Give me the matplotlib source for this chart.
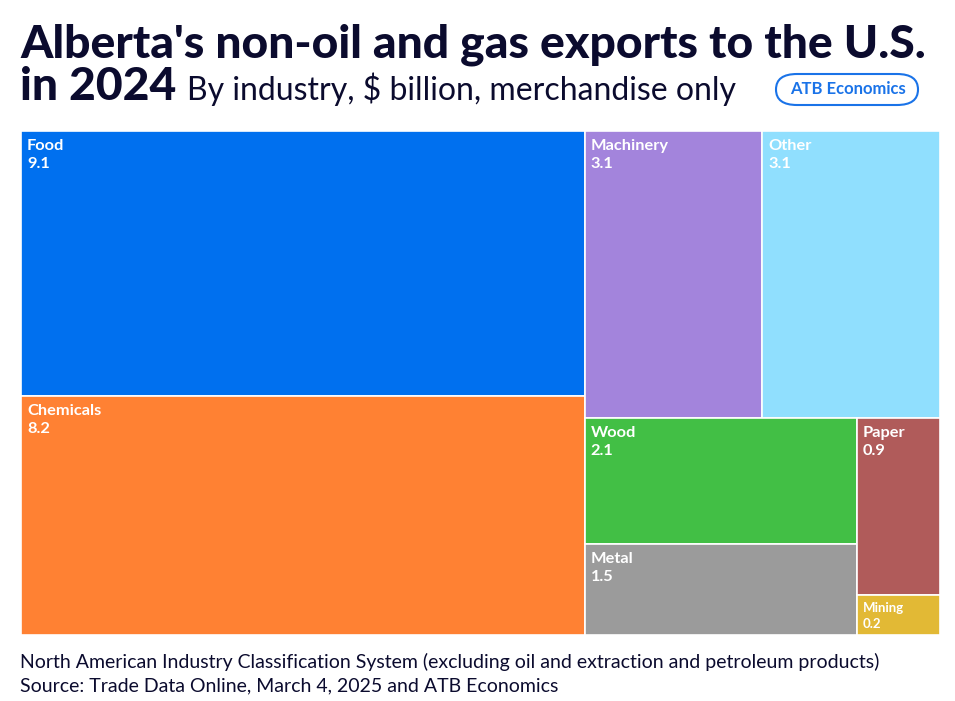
import matplotlib.pyplot as plt
from matplotlib.patches import Rectangle, FancyBboxPatch

# data
industries = ['Food', 'Chemicals', 'Machinery', 'Other', 'Wood', 'Metal', 'Paper', 'Mining']
values = [9.1, 8.2, 3.1, 3.1, 2.1, 1.5, 0.9, 0.2]
colors = ['#0070ef', '#ff8133', '#a384dc', '#90dffe', '#42bf45', '#9b9b9b', '#b05b5a', '#e2b935']

W, H = 919, 504  # treemap box in pixels


def squarify(vals, x0, y0, x1, y1, ratio=1.618034):
    # same idea as d3.treemapSquarify
    rects = []
    n = len(vals)
    value = sum(vals)
    i0 = i1 = 0
    while i0 < n:
        dx, dy = x1 - x0, y1 - y0
        s = vals[i1]
        i1 += 1
        mn = mx = s
        alpha = max(dy / dx, dx / dy) / (value * ratio)
        beta = s * s * alpha
        min_ratio = max(mx / beta, beta / mn)
        while i1 < n:
            v = vals[i1]
            s2 = s + v
            mn2, mx2 = min(mn, v), max(mx, v)
            beta = s2 * s2 * alpha
            new_ratio = max(mx2 / beta, beta / mn2)
            if new_ratio > min_ratio:
                break
            s, mn, mx, min_ratio = s2, mn2, mx2, new_ratio
            i1 += 1
        row = vals[i0:i1]
        if dx < dy:
            h = dy * s / value
            xx = x0
            for v in row:
                w = dx * v / s
                rects.append((xx, y0, w, h))
                xx += w
            y0 += h
        else:
            w = dx * s / value
            yy = y0
            for v in row:
                h = dy * v / s
                rects.append((x0, yy, w, h))
                yy += h
            x0 += w
        value -= s
        i0 = i1
    return rects


fig = plt.figure(figsize=(9.55, 7.01), dpi=100)
ink = '#0b0b2e'

ax = fig.add_axes([21 / 955, 1 - 635 / 701, W / 955, H / 701])
ax.set_xlim(0, W)
ax.set_ylim(H, 0)
ax.axis('off')

for (x, y, w, h), name, val, c in zip(squarify(values, 0, 0, W, H), industries, values, colors):
    ax.add_patch(Rectangle((x, y), w, h, facecolor=c, edgecolor='white', linewidth=1.2))
    small = val < 0.5
    fs = 9.5 if small else 11.8
    ax.text(x + 6, y + (7 if small else 8), name, color='white', fontsize=fs, fontweight='bold',
            family='Lato', va='top', ha='left')
    ax.text(x + 6, y + (23 if small else 26), f'{val}', color='white', fontsize=fs,
            fontweight='bold', family='Lato', va='top', ha='left')

fig.text(20 / 955, 1 - 58 / 701, "Alberta's non-oil and gas exports to the U.S.",
         fontsize=33.3, fontweight='black', family='Lato', color=ink, ha='left', va='baseline')
fig.text(20 / 955, 1 - 100 / 701, "in 2024", fontsize=33.3, fontweight='black',
         family='Lato', color=ink, ha='left', va='baseline')
fig.text(187 / 955, 1 - 100 / 701, "By industry, $ billion, merchandise only",
         fontsize=23, family='Lato', color=ink, ha='left', va='baseline')

badge = FancyBboxPatch((776 / 955, 1 - 105 / 701), 142 / 955, 31 / 701,
                       boxstyle='round,pad=0,rounding_size=0.022', transform=fig.transFigure,
                       facecolor='white', edgecolor='#1a73e8', linewidth=1.5)
fig.patches.append(badge)
fig.text(848 / 955, 1 - 89.5 / 701, 'ATB Economics', fontsize=12, fontweight='bold',
         family='Lato', color='#1a73e8', ha='center', va='center')

fig.text(20 / 955, 1 - 668 / 701,
         'North American Industry Classification System (excluding oil and extraction and petroleum products)',
         fontsize=14, family='Lato', color=ink, ha='left', va='baseline')
fig.text(20 / 955, 1 - 691 / 701, 'Source: Trade Data Online, March 4, 2025 and ATB Economics',
         fontsize=14, family='Lato', color=ink, ha='left', va='baseline')

fig.savefig('out.png', dpi=100, facecolor='white')
